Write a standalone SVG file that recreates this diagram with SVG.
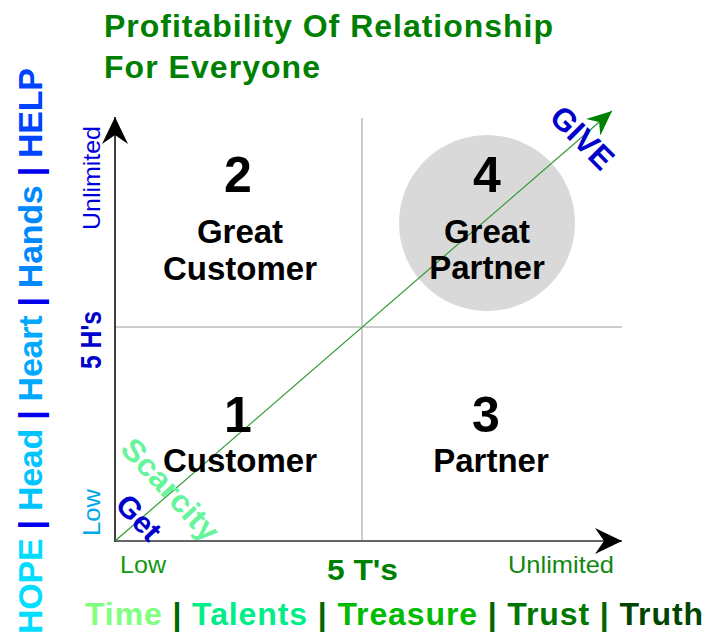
<svg xmlns="http://www.w3.org/2000/svg" width="720" height="635" viewBox="0 0 720 635">
<style>
text{font-family:"Liberation Sans",Arial,sans-serif}
.b{font-weight:bold}
.q{font-weight:bold;font-size:33px;fill:#000;text-anchor:middle}
.n{font-weight:bold;font-size:50px;fill:#000;text-anchor:middle}
.mid{stroke:#cccccc;stroke-width:2;fill:none}
.ax{font-size:24px}
</style>
<defs>
<marker id="ah" markerUnits="userSpaceOnUse" viewBox="0 0 27 26" refX="27" refY="13" markerWidth="27" markerHeight="26" orient="auto">
<path d="M0,0 L27,13 L0,26 L9,13 Z" fill="#000"/>
</marker>
<marker id="gh" markerUnits="userSpaceOnUse" viewBox="0 0 25 22" refX="25" refY="11" markerWidth="25" markerHeight="22" orient="auto">
<path d="M0,0 L25,11 L0,22 L8,11 Z" fill="#008000"/>
</marker>
</defs>
<rect width="720" height="635" fill="#fff"/>

<g id="title">
<text class="b" x="104" y="37" font-size="32" fill="#008000" textLength="449" lengthAdjust="spacing">Profitability Of Relationship</text>
<text class="b" x="104" y="78" font-size="32" fill="#008000" textLength="216" lengthAdjust="spacing">For Everyone</text>
</g>

<g id="node4">
<circle cx="487" cy="223" r="88" fill="#d9d9d9"/>
</g>

<g id="connectors">
<line class="mid" x1="362" y1="118" x2="362" y2="541"/>
<line class="mid" x1="115" y1="327" x2="622" y2="327"/>
<line x1="115" y1="541" x2="622" y2="541" stroke="#666" stroke-width="2" marker-end="url(#ah)"/>
<line x1="115" y1="542" x2="115" y2="117" stroke="#000" stroke-width="1.5" marker-end="url(#ah)"/>
<line x1="115" y1="541" x2="612" y2="111" stroke="#2f9a2f" stroke-width="1.2" marker-end="url(#gh)"/>
</g>

<g id="q2">
<text class="n" x="238" y="192">2</text>
<text class="q" x="240" y="243">Great</text>
<text class="q" x="240" y="280">Customer</text>
</g>
<g id="q4">
<text class="n" x="487" y="192">4</text>
<text class="q" x="487" y="243">Great</text>
<text class="q" x="487" y="279">Partner</text>
</g>
<g id="q1">
<text class="n" x="238" y="432">1</text>
<text class="q" x="240" y="472">Customer</text>
</g>
<g id="q3">
<text class="n" x="486" y="432">3</text>
<text class="q" x="491" y="472">Partner</text>
</g>

<g id="x-axis-labels">
<text class="ax" x="120" y="573" fill="#119911" textLength="46" lengthAdjust="spacingAndGlyphs">Low</text>
<text class="ax" x="508" y="573" fill="#118811" textLength="106" lengthAdjust="spacingAndGlyphs">Unlimited</text>
<text class="b" x="327" y="580" font-size="29" fill="#008000" textLength="71" lengthAdjust="spacingAndGlyphs">5 T's</text>
</g>

<g id="y-axis-labels">
<text class="ax" transform="translate(100,230) rotate(-90)" fill="#0000dd" textLength="104" lengthAdjust="spacingAndGlyphs">Unlimited</text>
<text class="ax" transform="translate(100,536) rotate(-90)" fill="#00a8e8" textLength="47" lengthAdjust="spacingAndGlyphs">Low</text>
<text class="b" transform="translate(101,369) rotate(-90)" font-size="29" fill="#0000cc" textLength="58" lengthAdjust="spacingAndGlyphs">5 H's</text>
</g>

<g id="h-list">
<text class="b" transform="translate(42,634) rotate(-90)" font-size="34" textLength="566" lengthAdjust="spacing"><tspan fill="#00ddff">HOPE</tspan><tspan fill="#0000ee"> | </tspan><tspan fill="#00c4ff">Head</tspan><tspan fill="#0000ee"> | </tspan><tspan fill="#00a8ff">Heart</tspan><tspan fill="#0000ee"> | </tspan><tspan fill="#0088ff">Hands</tspan><tspan fill="#0000ee"> | </tspan><tspan fill="#0044ff">HELP</tspan></text>
</g>

<g id="t-list">
<text class="b" x="85" y="625" font-size="32" textLength="618" lengthAdjust="spacing"><tspan fill="#80ff80">Time</tspan><tspan fill="#006600"> | </tspan><tspan fill="#00ee88">Talents</tspan><tspan fill="#006600"> | </tspan><tspan fill="#00bb00">Treasure</tspan><tspan fill="#006600"> | </tspan><tspan fill="#007700">Trust</tspan><tspan fill="#006600"> | </tspan><tspan fill="#004400">Truth</tspan></text>
</g>

<g id="diagonal-labels">
<text class="b" transform="translate(119,450) rotate(47)" font-size="31" fill="#66f59a" textLength="128" lengthAdjust="spacingAndGlyphs">Scarcity</text>
<text class="b" transform="translate(114,506) rotate(47)" font-size="30" fill="#0000cc" textLength="51" lengthAdjust="spacingAndGlyphs">Get</text>
<text class="b" transform="translate(548,119) rotate(45)" font-size="32" fill="#0000cc" textLength="75" lengthAdjust="spacingAndGlyphs">GIVE</text>
</g>
</svg>
